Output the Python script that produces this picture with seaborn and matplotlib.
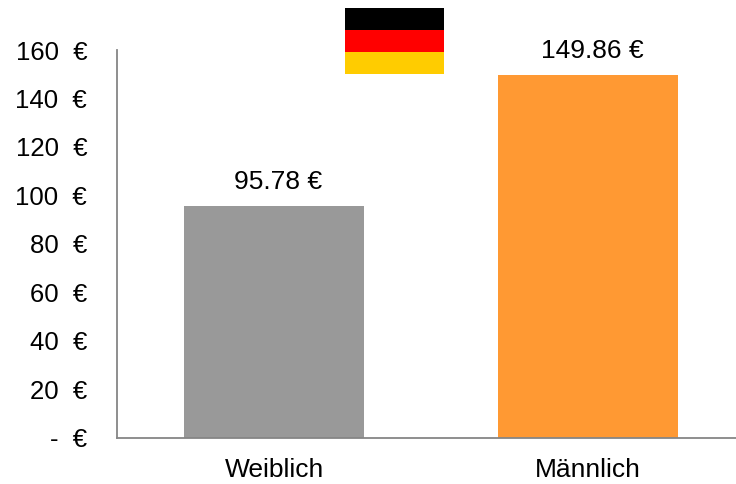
import matplotlib
matplotlib.use("Agg")
import matplotlib.pyplot as plt
from matplotlib.colors import ListedColormap
import numpy as np
import pandas as pd
import seaborn as sns

categories = ["Weiblich", "Männlich"]
values = [95.78, 149.86]
bar_colors = ["#999999", "#FF9933"]
y_ticks = [0, 20, 40, 60, 80, 100, 120, 140, 160]
y_labels = ["-  €", "20  €", "40  €", "60  €", "80  €", "100  €", "120  €", "140  €", "160  €"]
flag_colors = ["#000000", "#FF0000", "#FFCC00"]

sns.set_theme(style="white")
plt.rcParams["font.family"] = ["Liberation Sans", "DejaVu Sans"]

W, H = 736, 484
fig = plt.figure(figsize=(W / 100, H / 100), dpi=100, facecolor="white")
left, right, top, bottom = 117, 736, 50, 437.5
ax = fig.add_axes([left / W, 1 - bottom / H, (right - left) / W, (bottom - top) / H])

df = pd.DataFrame({"cat": categories, "val": values})
sns.barplot(data=df, x="cat", y="val", hue="cat", palette=bar_colors, width=0.575,
            legend=False, ax=ax, saturation=1, order=categories, linewidth=0)

ax.set_xlim(-0.5, 1.471)
ax.set_ylim(0, 160)
ax.set_xlabel("")
ax.set_ylabel("")
ax.set_yticks(y_ticks)
ax.set_yticklabels(y_labels)
ax.tick_params(axis="y", length=0, labelsize=18.5, labelcolor="black", pad=21.5)
ax.tick_params(axis="x", length=0, labelsize=19, labelcolor="black", pad=15)
sns.despine(ax=ax)
for s in ("left", "bottom"):
    ax.spines[s].set_color("#868686")
    ax.spines[s].set_linewidth(1.3)

for container, v in zip(ax.containers, values):
    labels = ax.bar_label(container, labels=[f"{v:.2f} €"], padding=8.2, fontsize=19, color="black")
    for t in labels:
        t.xyann = (2.9, t.xyann[1])

flag = fig.add_axes([345 / W, 1 - 74 / H, 99 / W, 66 / H])
sns.heatmap(np.arange(3).reshape(3, 1), cmap=ListedColormap(flag_colors), cbar=False,
            xticklabels=False, yticklabels=False, ax=flag)

fig.savefig("out.png", dpi=100, facecolor="white")
